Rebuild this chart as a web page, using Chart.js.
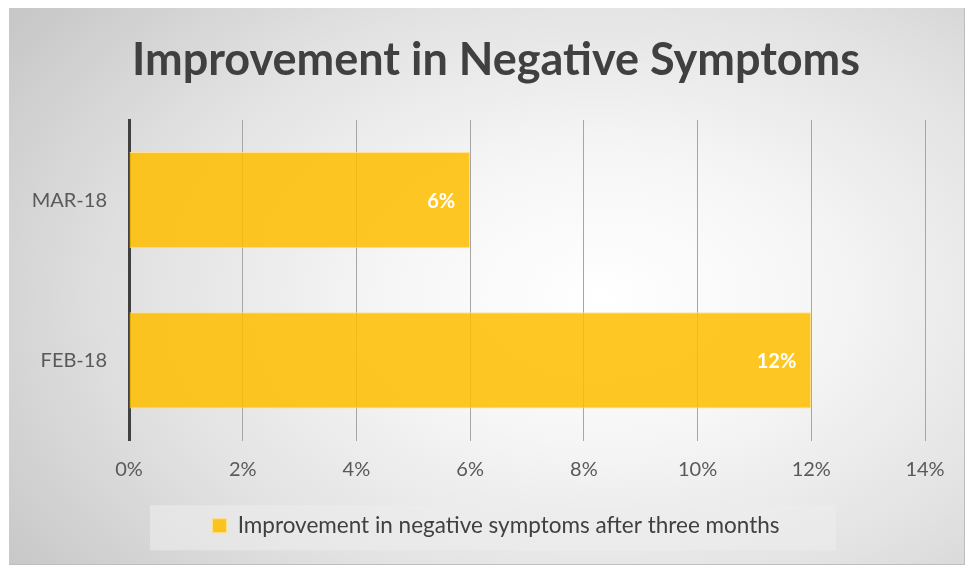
<!DOCTYPE html>
<html>
<head>
<meta charset="utf-8">
<script src="https://cdn.jsdelivr.net/npm/chart.js@4"></script>
<style>
  html, body { margin: 0; padding: 0; background: #ffffff; }
  #frame {
    position: absolute; left: 9px; top: 8px; width: 956px; height: 557px;
    background: radial-gradient(ellipse 75% 85% at 62% 52%, #ffffff 0%, #f6f6f6 30%, #e2e2e2 65%, #c8c8c8 100%);
    border-right: 1px solid #bdbdbd; border-bottom: 1px solid #bdbdbd;
    box-sizing: border-box;
  }
  canvas { display: block; }
</style>
</head>
<body>
<div id="frame"><canvas id="c" width="956" height="557"></canvas></div>
<script>
const titleText = 'Improvement in Negative Symptoms';
const categories = ['MAR-18', 'FEB-18'];
const seriesName = 'Improvement in negative symptoms after three months';
const seriesValues = [6, 12];
const tickValues = [0, 2, 4, 6, 8, 10, 12, 14];

const fontFamily = "Lato, 'Open Sans', sans-serif";
const barColor = 'rgba(255, 190, 0, 0.86)';

const legendBoxPlugin = {
  id: 'legendBox',
  beforeDraw(chart, args, opts) {
    const lg = chart.legend;
    if (!lg) return;
    const ctx = chart.ctx;
    const cx = opts.centerX;
    ctx.save();
    ctx.fillStyle = opts.color;
    ctx.fillRect(cx - opts.width / 2, lg.top + lg.height / 2 - opts.height / 2 + opts.shift, opts.width, opts.height);
    ctx.restore();
  }
};

const barLabelPlugin = {
  id: 'barLabels',
  afterDatasetsDraw(chart, args, opts) {
    const ctx = chart.ctx;
    const meta = chart.getDatasetMeta(0);
    const ds = chart.data.datasets[0];
    ctx.save();
    ctx.font = 'bold 20px ' + fontFamily;
    ctx.fillStyle = '#ffffff';
    ctx.textAlign = 'right';
    ctx.textBaseline = 'middle';
    meta.data.forEach((bar, i) => {
      ctx.fillText(ds.data[i] + '%', bar.x - opts.inset, bar.y + 1);
    });
    ctx.restore();
  }
};

new Chart(document.getElementById('c'), {
  type: 'bar',
  data: {
    labels: categories,
    datasets: [{
      label: seriesName,
      data: seriesValues,
      backgroundColor: barColor,
      borderColor: 'rgba(255, 225, 140, 0.9)',
      borderWidth: 1,
      barPercentage: 0.6,
      categoryPercentage: 1.0
    }]
  },
  options: {
    indexAxis: 'y',
    responsive: false,
    animation: false,
    layout: { padding: { left: 18, right: 0, top: 0, bottom: 18 } },
    scales: {
      x: {
        min: 0, max: 14,
        afterBuildTicks(scale) { scale.ticks = tickValues.map(v => ({ value: v })); },
        ticks: {
          callback: v => v + '%',
          font: { family: fontFamily, size: 20 },
          color: '#595959',
          padding: 17,
          maxRotation: 0
        },
        grid: { color: '#a6a6a6', lineWidth: 1, drawTicks: false },
        border: { display: false },
        afterFit(scale) { scale.height = 64; scale.paddingRight = 40; }
      },
      y: {
        ticks: {
          font: { family: fontFamily, size: 20 },
          color: '#595959',
          padding: 22
        },
        grid: { display: false, drawTicks: false },
        border: { display: true, color: '#404040', width: 3 },
        afterFit(scale) { scale.width = 102; }
      }
    },
    plugins: {
      title: {
        display: true,
        text: titleText,
        color: '#404040',
        font: { family: fontFamily, size: 45, weight: 'bold' },
        padding: { top: 25, bottom: 33 }
      },
      legend: {
        display: true,
        position: 'bottom',
        labels: {
          font: { family: fontFamily, size: 22.5 },
          color: '#404040',
          boxWidth: 14,
          boxHeight: 14,
          padding: 10
        }
      },
      legendBox: { centerX: 484, width: 686, height: 45, shift: 2, color: 'rgba(236, 236, 236, 0.6)' },
      barLabels: { inset: 15 },
      tooltip: { enabled: false }
    }
  },
  plugins: [legendBoxPlugin, barLabelPlugin]
});
</script>
</body>
</html>
